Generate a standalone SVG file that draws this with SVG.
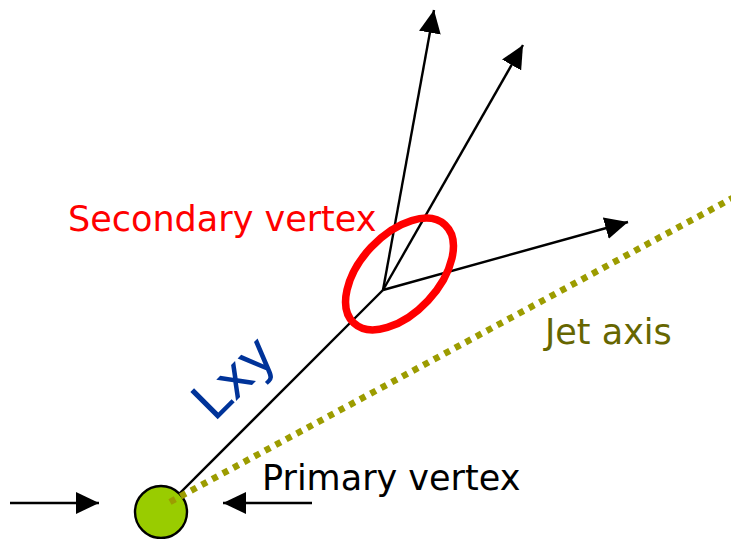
<svg xmlns="http://www.w3.org/2000/svg" width="731" height="539" viewBox="0 0 731 539">
<style>
.trk{stroke:#000;stroke-width:2.4;fill:none}
.lbl{font-family:"DejaVu Sans","Liberation Sans",sans-serif;font-size:35px}
</style>
<defs>
<marker id="ah" viewBox="0 0 23 22" refX="23" refY="11" markerWidth="23" markerHeight="22" markerUnits="userSpaceOnUse" orient="auto">
<path d="M0,0 L23,11 L0,22 z" fill="#000"/>
</marker>
</defs>
<rect width="731" height="539" fill="#fff"/>
<g id="connectors">
<line class="trk" x1="161" y1="512" x2="383" y2="290"/>
<line class="trk" x1="383" y1="290" x2="434" y2="10" marker-end="url(#ah)"/>
<line class="trk" x1="383" y1="290" x2="523" y2="45" marker-end="url(#ah)"/>
<line class="trk" x1="383" y1="290" x2="628" y2="222" marker-end="url(#ah)"/>
<line class="trk" x1="10" y1="503" x2="99" y2="503" marker-end="url(#ah)"/>
<line class="trk" x1="312" y1="503" x2="223" y2="503" marker-end="url(#ah)"/>
</g>
<g id="primary-vertex">
<circle cx="161" cy="512" r="26" fill="#99cc00" stroke="#000" stroke-width="2.4"/>
</g>
<g id="jet-axis">
<line x1="170" y1="502" x2="740" y2="194" stroke="#9c9c00" stroke-width="6.5" stroke-dasharray="6 6"/>
</g>
<g id="secondary-vertex">
<ellipse cx="399.5" cy="274" rx="67" ry="39" transform="rotate(-47 399.5 274)" fill="none" stroke="#ff0000" stroke-width="7.5"/>
</g>
<g id="labels">
<text class="lbl" x="68" y="231" fill="#ff0000">Secondary vertex</text>
<text class="lbl" x="545" y="344" fill="#666600">Jet axis</text>
<text class="lbl" x="262" y="490" fill="#000">Primary vertex</text>
<text class="lbl" transform="translate(214 423) rotate(-45)" style="font-size:53px" fill="#003399">Lxy</text>
</g>
</svg>
